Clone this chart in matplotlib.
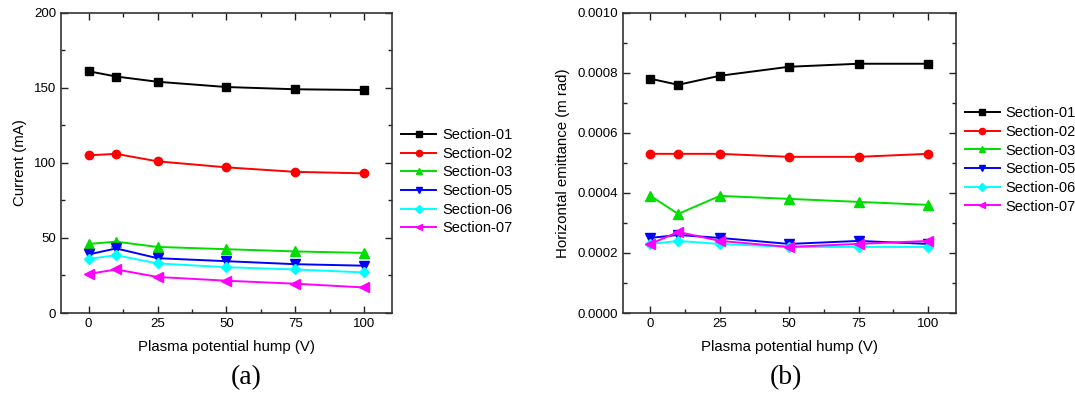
import matplotlib
matplotlib.use("Agg")
import matplotlib.pyplot as plt
from matplotlib.ticker import MultipleLocator

plt.rcParams['font.family'] = ['Liberation Sans', 'DejaVu Sans']

x_hump = [0, 10, 25, 50, 75, 100]
names = ['Section-01', 'Section-02', 'Section-03', 'Section-05', 'Section-06', 'Section-07']

current_s01 = [161, 157.5, 154, 150.5, 149, 148.5]
current_s02 = [105, 106, 101, 97, 94, 93]
current_s03 = [46, 47.5, 44, 42.5, 41, 40]
current_s05 = [39, 43, 36.5, 34.5, 32.5, 31.5]
current_s06 = [36, 38.5, 33, 30.5, 29, 27]
current_s07 = [26, 29, 24, 21.5, 19.5, 17]

emit_s01 = [0.00078, 0.00076, 0.00079, 0.00082, 0.00083, 0.00083]
emit_s02 = [0.00053, 0.00053, 0.00053, 0.00052, 0.00052, 0.00053]
emit_s03 = [0.00039, 0.00033, 0.00039, 0.00038, 0.00037, 0.00036]
emit_s05 = [0.00025, 0.00026, 0.00025, 0.00023, 0.00024, 0.00023]
emit_s06 = [0.00023, 0.00024, 0.00023, 0.00022, 0.00022, 0.00022]
emit_s07 = [0.00023, 0.00027, 0.00024, 0.00022, 0.00023, 0.00024]

colors = ['#000000', '#ff0000', '#00dd00', '#0000ff', '#00ffff', '#ff00ff']
markers = ['s', 'o', '^', 'v', 'D', '<']
msizes = [5.5, 6, 6.5, 6.5, 5, 6.5]

W, H = 1075, 394
fig = plt.figure(figsize=(W / 100, H / 100), dpi=100)

ax1 = fig.add_axes([61 / W, 1 - 313 / H, (392 - 61) / W, (313 - 12.7) / H])
ax2 = fig.add_axes([622.7 / W, 1 - 313 / H, (955.7 - 622.7) / W, (313 - 12.7) / H])

def draw(ax, series, ylabel, ylim, major, minor, fmt, legx):
    for name, ys, c, m, ms in zip(names, series, colors, markers, msizes):
        ax.plot(x_hump, ys, color=c, marker=m, markersize=ms, lw=1.4, label=name)
    ax.set_xlim(-10, 110)
    ax.set_ylim(*ylim)
    ax.xaxis.set_major_locator(MultipleLocator(25))
    ax.xaxis.set_minor_locator(MultipleLocator(12.5))
    ax.yaxis.set_major_locator(MultipleLocator(major))
    ax.yaxis.set_minor_locator(MultipleLocator(minor))
    if fmt:
        ax.yaxis.set_major_formatter(fmt)
    ax.tick_params(which='both', direction='in', top=True, right=True,
                   labelsize=9.5, colors='#222222', labelcolor='black')
    ax.tick_params(which='major', length=5, width=1)
    ax.tick_params(which='minor', length=3, width=1)
    for s in ax.spines.values():
        s.set_color('#333333')
        s.set_linewidth(1.2)
    ax.set_xlabel('Plasma potential hump (V)', fontsize=10.8, labelpad=7)
    ax.set_ylabel(ylabel, fontsize=10.8, labelpad=5)
    leg = ax.legend(loc='upper left', bbox_to_anchor=legx, frameon=False,
                    fontsize=10.5, numpoints=1, handlelength=2.4,
                    handletextpad=0.4, labelspacing=0.32, borderaxespad=0)
    for h in leg.legend_handles:
        h.set_markersize(4.5)

draw(ax1, [current_s01, current_s02, current_s03, current_s05, current_s06, current_s07],
     'Current (mA)', (0, 200), 50, 25, None, (1.01, 0.635))
draw(ax2, [emit_s01, emit_s02, emit_s03, emit_s05, emit_s06, emit_s07],
     'Horizontal emittance (m rad)', (0, 0.001), 0.0002, 0.0001,
     matplotlib.ticker.FormatStrFormatter('%.4f'), (1.01, 0.708))

fig.text(246 / W, 1 - 378 / H, '(a)', fontsize=20, family=['Liberation Serif', 'DejaVu Serif'],
         ha='center', va='center')
fig.text(786 / W, 1 - 378 / H, '(b)', fontsize=20, family=['Liberation Serif', 'DejaVu Serif'],
         ha='center', va='center')

fig.savefig('out.png', dpi=100)
